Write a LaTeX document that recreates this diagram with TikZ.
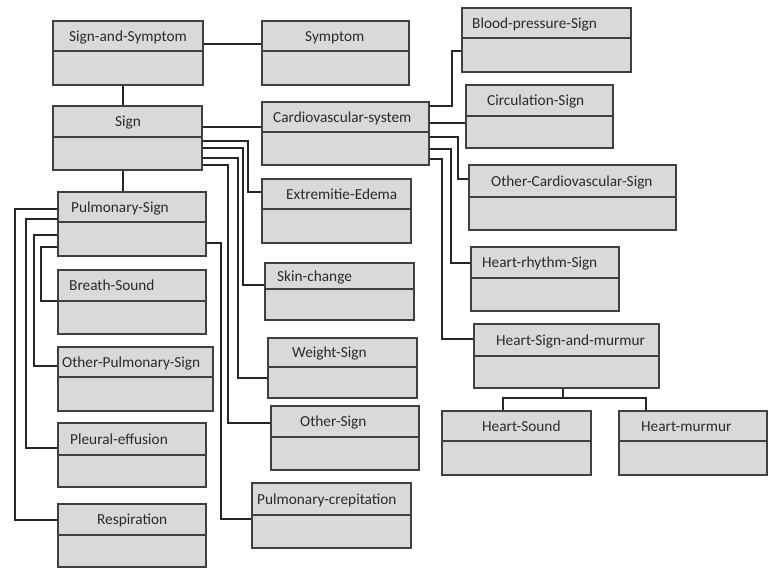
\documentclass[tikz,border=0pt]{standalone}
\usepackage{fontspec}
\setmainfont{Carlito}
\usetikzlibrary{fit}
\definecolor{boxfill}{HTML}{D9D9D9}
\definecolor{boxline}{HTML}{404040}
\definecolor{txt}{HTML}{2A2A2A}
\tikzset{
  umlbox/.style={draw=boxline, fill=boxfill, line width=1.4pt, inner sep=0pt, rectangle},
  divline/.style={draw=boxline, line width=1.2pt},
  lbl/.style={anchor=base west, inner sep=0pt, text=txt, font=\fontsize{15.3}{18}\selectfont},
  conn/.style={draw=black!85, line width=1.1pt}
}
% name, x1, y1, x2, y2, ydiv, textx, text
\newcommand\umlbox[8]{%
  \node[umlbox, fit={(#2,#3) (#4,#5)}] (#1) {};
  \draw[divline] (#1.west |- 0,#6) -- (#1.east |- 0,#6);
  \node[lbl] (#1-t) at ({#7},{(#3+#6)/2+5}) {#8};
}
\begin{document}
\begin{tikzpicture}[x=1pt,y=-1pt]
\useasboundingbox (0,0) rectangle (769,568);
\umlbox{ss}{53}{21}{203}{85}{51}{69}{Sign-and-Symptom}
\umlbox{sym}{262}{21}{409}{85}{51}{305}{Symptom}
\umlbox{sign}{53}{106}{202}{170}{137}{115}{Sign}
\umlbox{cv}{262}{102}{429}{165}{132}{273}{Cardiovascular-system}
\umlbox{ee}{262}{179}{411}{243}{209}{286}{Extremitie-Edema}
\umlbox{skin}{265}{263}{414}{320}{289}{277}{Skin-change}
\umlbox{wt}{268}{338}{417}{398}{367}{292}{Weight-Sign}
\umlbox{os}{271}{406}{419}{470}{437}{300}{Other-Sign}
\umlbox{pc}{252}{483}{411}{548}{515}{257}{Pulmonary-crepitation}
\umlbox{ps}{58}{192}{206}{256}{222}{71}{Pulmonary-Sign}
\umlbox{bs}{58}{270}{206}{334}{301}{69}{Breath-Sound}
\umlbox{ops}{58}{347}{213}{411}{377}{62}{Other-Pulmonary-Sign}
\umlbox{pe}{58}{423}{206}{487}{455}{70}{Pleural-effusion}
\umlbox{resp}{58}{504}{206}{567}{535}{97}{Respiration}
\umlbox{bp}{462}{8}{631}{72}{38}{472}{Blood-pressure-Sign}
\umlbox{circ}{466}{85}{613}{148}{116}{487}{Circulation-Sign}
\umlbox{ocs}{469}{165}{676}{230}{197}{491}{Other-Cardiovascular-Sign}
\umlbox{hr}{471}{247}{619}{311}{278}{482}{Heart-rhythm-Sign}
\umlbox{hsm}{474}{324}{659}{388}{356}{496}{Heart-Sign-and-murmur}
\umlbox{hs}{442}{411}{591}{475}{441}{482}{Heart-Sound}
\umlbox{hm}{619}{411}{767}{475}{441}{641}{Heart-murmur}
% connectors
\draw[conn] (ss.east |- 0,44) -- (sym.west |- 0,44);
\draw[conn] (ss.south -| 123,0) -- (sign.north -| 123,0);
\draw[conn] (sign.south -| 123,0) -- (ps.north -| 123,0);
\draw[conn] (sign.east |- 0,127) -- (cv.west |- 0,127);
\draw[conn] (sign.east |- 0,141) -| (248,192) -- (ee.west |- 0,192);
\draw[conn] (sign.east |- 0,148) -| (243,285) -- (skin.west |- 0,285);
\draw[conn] (sign.east |- 0,158) -| (238,378) -- (wt.west |- 0,378);
\draw[conn] (sign.east |- 0,165) -| (228,423) -- (os.west |- 0,423);
\draw[conn] (ps.east |- 0,243) -| (221,519) -- (pc.west |- 0,519);
\draw[conn] (ps.west |- 0,209) -| (15,520) -- (resp.west |- 0,520);
\draw[conn] (ps.west |- 0,219) -| (26,448) -- (pe.west |- 0,448);
\draw[conn] (ps.west |- 0,235) -| (34,366) -- (ops.west |- 0,366);
\draw[conn] (ps.west |- 0,247) -| (41,301) -- (bs.west |- 0,301);
\draw[conn] (cv.east |- 0,106) -| (452,51) -- (bp.west |- 0,51);
\draw[conn] (cv.east |- 0,123) -- (circ.west |- 0,123);
\draw[conn] (cv.east |- 0,137) -| (458,179) -- (ocs.west |- 0,179);
\draw[conn] (cv.east |- 0,149) -| (451,263) -- (hr.west |- 0,263);
\draw[conn] (cv.east |- 0,159) -| (442,339) -- (hsm.west |- 0,339);
\coordinate (hj) at (563,398);
\draw[conn] (hsm.south -| 563,0) -- (hj);
\draw[conn] (hj) -| (hs.north -| 503,0);
\draw[conn] (hj) -| (hm.north -| 646,0);
\end{tikzpicture}
\end{document}
